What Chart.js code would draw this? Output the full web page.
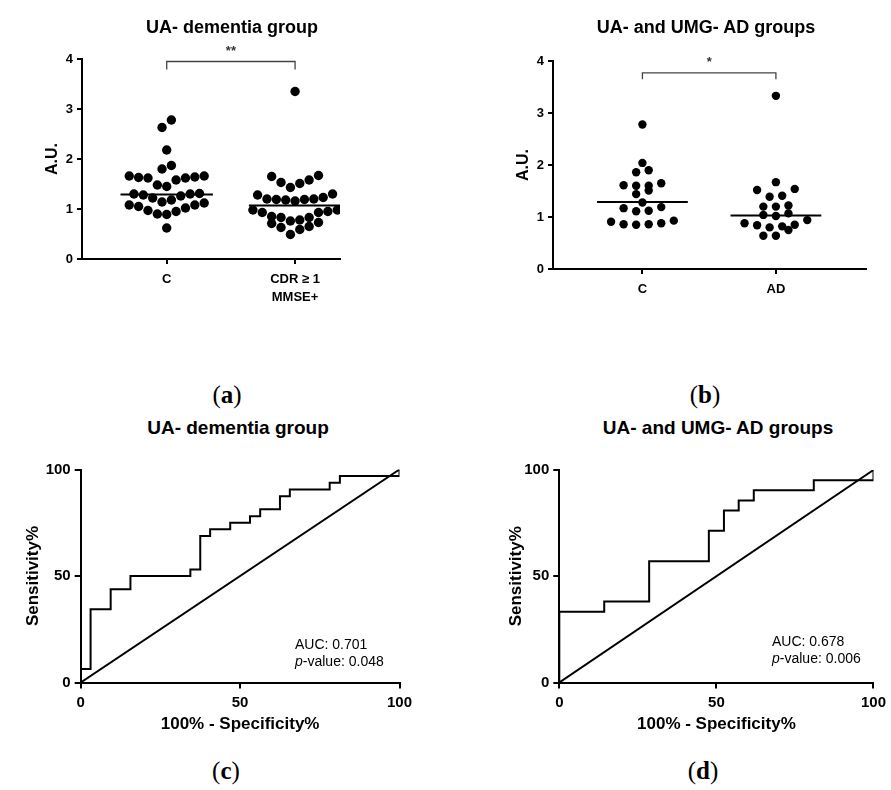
<!DOCTYPE html>
<html>
<head>
<meta charset="utf-8">
<script src="https://cdn.jsdelivr.net/npm/chart.js@4.4.1/dist/chart.umd.min.js"></script>
<style>
  body { margin: 0; background: #fff; }
  #fig { position: relative; width: 891px; height: 790px; background: #fff; overflow: hidden; }
  canvas { position: absolute; }
  .txt { position: absolute; font-family: "Liberation Sans", Arial, sans-serif; color: #000; white-space: nowrap; }
  .title { font-weight: bold; transform: translateX(-50%); }
  .letter { font-family: "Liberation Serif", "Times New Roman", serif; font-size: 25px; line-height: 28px; transform: translateX(-50%); }
  .letter b { font-weight: bold; }
  .auc { font-size: 14px; line-height: 17px; }
</style>
</head>
<body>
<div id="fig">
  <canvas id="panelA" width="445" height="320" style="left:0;top:0"></canvas>
  <canvas id="panelB" width="446" height="320" style="left:445px;top:0"></canvas>
  <canvas id="panelC" width="445" height="310" style="left:0;top:440px"></canvas>
  <canvas id="panelD" width="446" height="310" style="left:445px;top:440px"></canvas>

  <div class="txt title" style="left:232px;top:17px;font-size:18px;line-height:20px">UA- dementia group</div>
  <div class="txt title" style="left:706px;top:17px;font-size:18px;line-height:20px">UA- and UMG- AD groups</div>
  <div class="txt title" style="left:238px;top:417px;font-size:19px;line-height:22px">UA- dementia group</div>
  <div class="txt title" style="left:718px;top:417px;font-size:19px;line-height:22px">UA- and UMG- AD groups</div>

  <div class="txt letter" style="left:227px;top:381px">(<b>a</b>)</div>
  <div class="txt letter" style="left:705px;top:381px">(<b>b</b>)</div>
  <div class="txt letter" style="left:226px;top:757px">(<b>c</b>)</div>
  <div class="txt letter" style="left:703px;top:757px">(<b>d</b>)</div>

  <div class="txt auc" style="left:295px;top:636px">AUC: 0.701<br><i>p</i>-value: 0.048</div>
  <div class="txt auc" style="left:772px;top:633px">AUC: 0.678<br><i>p</i>-value: 0.006</div>
</div>
<script>
// Panel (a) : UA- dementia group
const groupsA = ['C', ['CDR \u2265 1', 'MMSE+']];
const controlA = [2.78, 2.63, 2.18, 1.87, 1.80, 1.66, 1.64, 1.62, 1.48, 1.45, 1.58, 1.62, 1.63, 1.66,
                  1.30, 1.28, 1.22, 1.14, 1.18, 1.26, 1.30, 1.31, 1.08, 1.05, 0.97, 0.90, 0.89, 0.95,
                  1.02, 1.08, 1.12, 0.62];
const dementiaA = [3.35, 1.58, 1.51, 1.67, 1.53, 1.65, 1.43, 1.30, 1.23, 1.20, 1.19, 1.16, 1.18, 1.19,
                   1.20, 1.28, 0.95, 0.93, 0.98, 0.98, 0.83, 0.78, 0.76, 0.83, 0.85, 0.93, 0.71, 0.63,
                   0.49, 0.59, 0.65, 0.73];
const meansA = [1.29, 1.07];
const signifA = '**';

// Panel (b) : UA- and UMG- AD groups
const groupsB = ['C', 'AD'];
const controlB = [2.78, 2.04, 1.90, 1.86, 1.61, 1.60, 1.60, 1.65, 1.44, 1.51, 1.28, 1.19, 1.12, 1.11,
                  1.17, 0.91, 0.86, 0.85, 0.86, 0.88, 0.93];
const adB = [3.33, 1.67, 1.54, 1.52, 1.41, 1.39, 1.22, 1.20, 1.20, 1.04, 1.02, 1.07, 0.94, 0.85, 0.82,
             0.88, 0.80, 0.84, 0.75, 0.64, 0.64];
const meansB = [1.29, 1.03];
const signifB = '*';

const yTicksAU = [0, 1, 2, 3, 4];

// Panels (c) et (d) : courbes ROC (coins des marches)
const rocC_fpr = [0, 0, 3.1, 9.4, 15.6, 34.4, 37.5, 40.6, 46.9, 53.1, 56.3, 62.5, 65.6, 78.1, 81.3, 100];
const rocC_tpr = [0, 6.3, 34.4, 43.8, 50.0, 53.1, 68.8, 71.9, 75.0, 78.1, 81.3, 87.5, 90.6, 93.8, 96.9, 100];
const rocD_fpr = [0, 0, 14.3, 28.6, 47.6, 52.4, 57.1, 61.9, 81.0, 100];
const rocD_tpr = [0, 33.3, 38.1, 57.1, 71.4, 81.0, 85.7, 90.5, 95.2, 100];
const rocTicks = [0, 50, 100];

Chart.defaults.font.family = '"Liberation Sans", Arial, sans-serif';
Chart.defaults.color = '#000';
Chart.defaults.animation = false;

/**
 * Disposition "scatter dot plot" : les valeurs proches sont regroupées en rangées,
 * la plus basse au centre, les autres alternées de part et d'autre.
 */
function dotLayout(values, center, binW, step) {
    const sorted = values.slice().sort((a, b) => a - b);
    const pts = [];
    let i = 0;
    while (i < sorted.length) {
        const start = sorted[i];
        const bin = [];
        while (i < sorted.length && sorted[i] < start + binW - 1e-9) bin.push(sorted[i++]);
        const n = bin.length;
        const slots = [];
        for (let k = 0; k < n; k++) slots.push(k - (n - 1) / 2);
        slots.sort((a, b) => Math.abs(a) - Math.abs(b) || a - b);
        bin.forEach((v, j) => pts.push({ x: center + slots[j] * step, y: v }));
    }
    return pts;
}

function meanLine(center, value, half) {
    return [{ x: center - half, y: value }, { x: center + half, y: value }];
}

// Crochet de significativité au-dessus des deux groupes
const bracketPlugin = {
    id: 'bracket',
    afterDraw(chart, args, opts) {
        if (!opts || !opts.text) return;
        const { ctx, scales: { x, y } } = chart;
        const x1 = x.getPixelForValue(1), x2 = x.getPixelForValue(2);
        const yTop = y.getPixelForValue(opts.y), yEnd = y.getPixelForValue(opts.yEnd);
        ctx.save();
        ctx.strokeStyle = '#444';
        ctx.lineWidth = 1.3;
        ctx.beginPath();
        ctx.moveTo(x1, yEnd);
        ctx.lineTo(x1, yTop);
        ctx.lineTo(x2, yTop);
        ctx.lineTo(x2, yEnd);
        ctx.stroke();
        ctx.fillStyle = '#333';
        ctx.font = 'bold 13px "Liberation Sans", Arial, sans-serif';
        ctx.textAlign = 'center';
        ctx.textBaseline = 'middle';
        ctx.fillText(opts.text, (x1 + x2) / 2, y.getPixelForValue(opts.textY));
        ctx.restore();
    }
};

function axisStyle(tickLen) {
    return {
        grid: { display: true, drawOnChartArea: false, drawTicks: true, tickLength: tickLen,
                color: '#000', lineWidth: 2 },
        border: { display: true, color: '#000', width: 2 }
    };
}

function dotChart(id, cfg) {
    const dotStyle = { pointRadius: cfg.radius, pointBackgroundColor: '#000', pointBorderWidth: 0,
                       showLine: false };
    const lineStyle = { showLine: true, pointRadius: 0, borderColor: '#000', borderWidth: 2 };
    return new Chart(document.getElementById(id), {
        type: 'scatter',
        data: {
            datasets: [
                { data: dotLayout(cfg.g1, 1, cfg.binW, cfg.step), ...dotStyle },
                { data: dotLayout(cfg.g2, 2, cfg.binW, cfg.step), ...dotStyle },
                { data: meanLine(1, cfg.means[0], cfg.half), ...lineStyle },
                { data: meanLine(2, cfg.means[1], cfg.half), ...lineStyle }
            ]
        },
        options: {
            responsive: false,
            layout: { padding: { top: cfg.padTop, right: cfg.padRight, left: 0, bottom: 0 } },
            plugins: { legend: { display: false }, tooltip: { enabled: false }, bracket: cfg.bracket },
            scales: {
                x: {
                    type: 'linear', min: cfg.xMin, max: cfg.xMax,
                    afterBuildTicks: (s) => { s.ticks = [{ value: 1 }, { value: 2 }]; },
                    afterFit: (s) => { s.height = cfg.xHeight; },
                    ticks: { font: { size: 13, weight: 'bold', lineHeight: 1.35 }, padding: 7, maxRotation: 0,
                             callback: (v) => cfg.groups[v - 1] },
                    ...axisStyle(5)
                },
                y: {
                    min: 0, max: 4,
                    afterBuildTicks: (s) => { s.ticks = yTicksAU.map(v => ({ value: v })); },
                    afterFit: (s) => { s.width = cfg.yWidth; },
                    ticks: { font: { size: 13, weight: 'bold' }, padding: 4 },
                    title: { display: true, text: 'A.U.', font: { size: 16, weight: 'bold' },
                             padding: { top: cfg.yTitlePad, bottom: 0 } },
                    ...axisStyle(5)
                }
            }
        },
        plugins: [bracketPlugin]
    });
}

function rocChart(id, fpr, tpr, cfg) {
    return new Chart(document.getElementById(id), {
        type: 'scatter',
        data: {
            datasets: [
                { data: fpr.map((v, i) => ({ x: v, y: tpr[i] })), showLine: true, stepped: 'before',
                  pointRadius: 0, borderColor: '#000', borderWidth: 2 },
                { data: [{ x: 0, y: 0 }, { x: 100, y: 100 }], showLine: true, pointRadius: 0,
                  borderColor: '#000', borderWidth: 2 }
            ]
        },
        options: {
            responsive: false,
            layout: { padding: { top: cfg.padTop, right: cfg.padRight, left: 0, bottom: 0 } },
            plugins: { legend: { display: false }, tooltip: { enabled: false } },
            scales: {
                x: {
                    type: 'linear', min: 0, max: 100,
                    afterBuildTicks: (s) => { s.ticks = rocTicks.map(v => ({ value: v })); },
                    afterFit: (s) => { s.height = cfg.xHeight; },
                    ticks: { font: { size: 15, weight: 'bold' }, padding: 5, maxRotation: 0 },
                    title: { display: true, text: '100% - Specificity%', font: { size: 17, weight: 'bold' },
                             padding: { top: 0, bottom: cfg.xTitlePad } },
                    ...axisStyle(6)
                },
                y: {
                    min: 0, max: 100,
                    afterBuildTicks: (s) => { s.ticks = rocTicks.map(v => ({ value: v })); },
                    afterFit: (s) => { s.width = cfg.yWidth; },
                    ticks: { font: { size: 15, weight: 'bold' }, padding: 4 },
                    title: { display: true, text: 'Sensitivity%', font: { size: 17, weight: 'bold' },
                             padding: { top: cfg.yTitlePad, bottom: 0 } },
                    ...axisStyle(6)
                }
            }
        }
    });
}

dotChart('panelA', {
    groups: groupsA, g1: controlA, g2: dementiaA, means: meansA,
    radius: 4.7, binW: 0.25, step: 0.073, half: 0.36,
    xMin: 0.34, xMax: 2.35, padTop: 59, padRight: 105, xHeight: 61, yWidth: 82, yTitlePad: 43,
    bracket: { text: signifA, y: 3.95, yEnd: 3.79, textY: 4.16 }
});

dotChart('panelB', {
    groups: groupsB, g1: controlB, g2: adB, means: meansB,
    radius: 4.2, binW: 0.155, step: 0.094, half: 0.34,
    xMin: 0.33, xMax: 2.675, padTop: 61, padRight: 25, xHeight: 51, yWidth: 108, yTitlePad: 69,
    bracket: { text: signifB, y: 3.77, yEnd: 3.65, textY: 3.98 }
});

rocChart('panelC', rocC_fpr, rocC_tpr, {
    padTop: 29.5, padRight: 45.5, xHeight: 67.5, yWidth: 80.7, yTitlePad: 23, xTitlePad: 15
});

rocChart('panelD', rocD_fpr, rocD_tpr, {
    padTop: 30, padRight: 13.7, xHeight: 67.5, yWidth: 114.3, yTitlePad: 61, xTitlePad: 15
});
</script>
</body>
</html>
